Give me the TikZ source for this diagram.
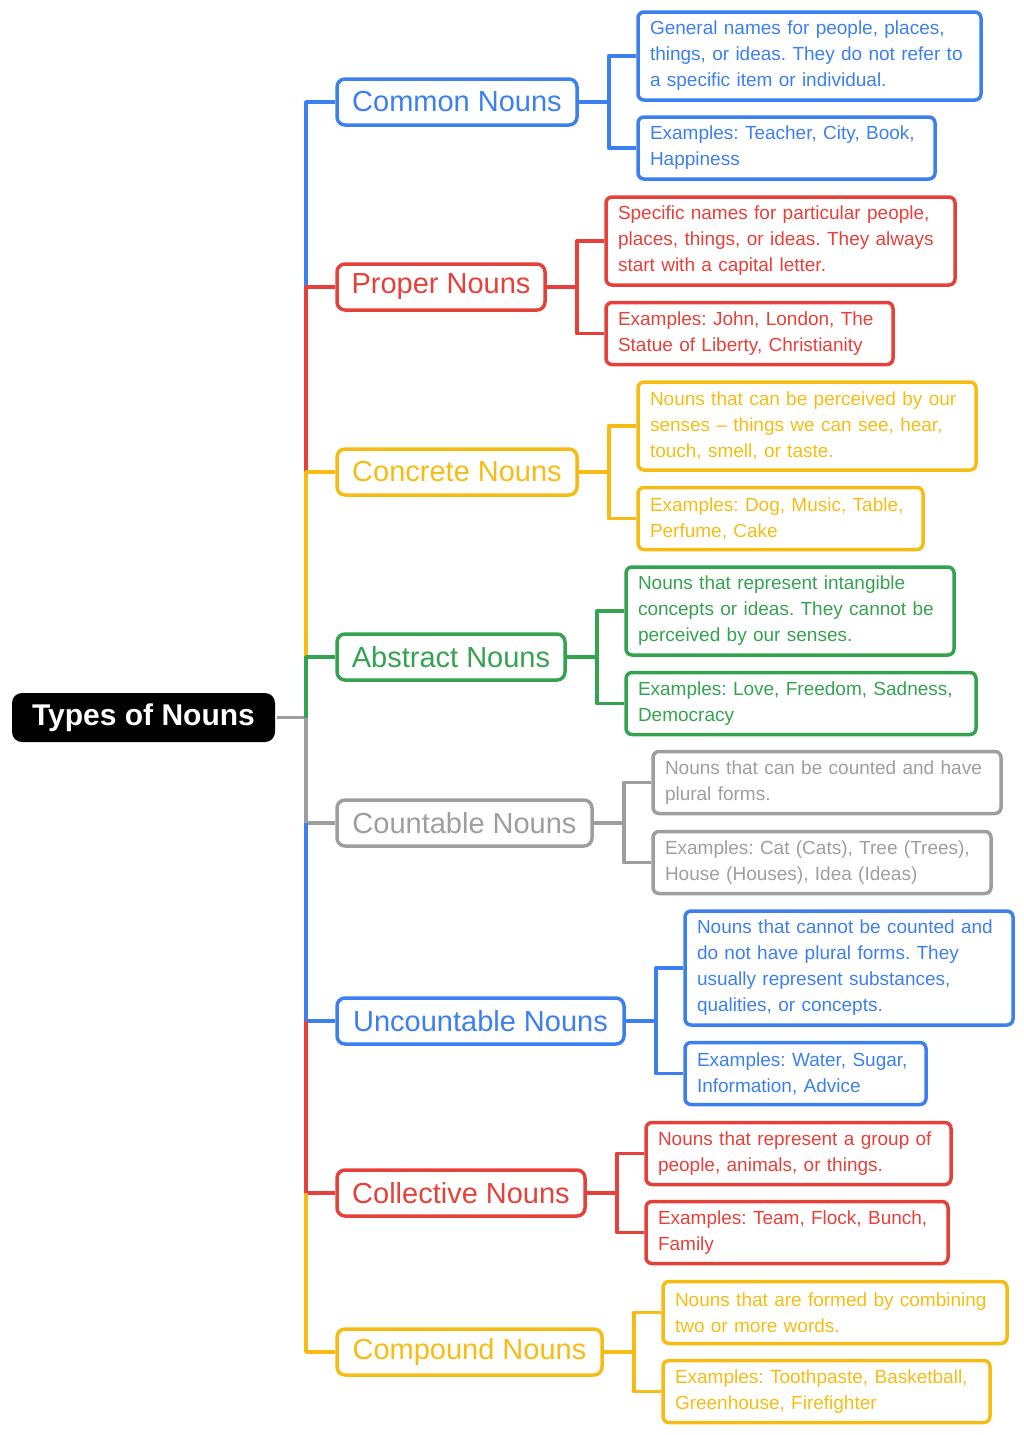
\documentclass[tikz,border=0pt]{standalone}
\usepackage{fontspec}
\setmainfont{Liberation Sans}
\frenchspacing
\definecolor{cb}{HTML}{3C7FEE}
\definecolor{cr}{HTML}{E5413A}
\definecolor{cy}{HTML}{F6BC14}
\definecolor{cg}{HTML}{34A34F}
\definecolor{cgr}{HTML}{9E9E9E}
\begin{document}
\begin{tikzpicture}[x=1pt,y=-1pt,line width=3.5pt,line join=round,
  cat/.style={draw=#1,text=#1,rounded corners=8pt,minimum height=46pt,inner xsep=0pt,font=\fontsize{29}{32}\selectfont},
  desc/.style={draw=#1,text=#1,rounded corners=6pt,inner xsep=12pt,align=left,font=\fontsize{19}{26}\selectfont},
  root/.style={fill=black,text=white,rounded corners=10pt,minimum width=263pt,minimum height=49pt,font=\fontsize{30}{34}\selectfont\bfseries}]
\useasboundingbox (0,0) rectangle (1024,1435);
\node[root] (root) at (143.5,717.5) {Types of Nouns};
\coordinate (t) at (306,717.5);
% categories
\node[cat=cb,minimum width=240pt] (c1) at (457,102) {Common Nouns};
\node[cat=cr,minimum width=208pt] (c2) at (441,287) {Proper Nouns};
\node[cat=cy,minimum width=240pt] (c3) at (457,472) {Concrete Nouns};
\node[cat=cg,minimum width=228pt] (c4) at (451,657) {Abstract Nouns};
\node[cat=cgr,minimum width=255pt] (c5) at (464.5,823) {Countable Nouns};
\node[cat=cb,minimum width=287pt] (c6) at (480.5,1021) {Uncountable Nouns};
\node[cat=cr,minimum width=248pt] (c7) at (461,1193) {Collective Nouns};
\node[cat=cy,minimum width=265pt] (c8) at (469.5,1352) {Compound Nouns};
% descriptions
\node[desc=cb,text width=319pt,minimum height=88pt] (d1a) at (809.5,56) {General names for people, places,\\things, or ideas. They do not refer to\\a specific item or individual.};
\node[desc=cb,text width=273pt,minimum height=62pt] (d1b) at (786.5,148) {Examples: Teacher, City, Book,\\Happiness};
\node[desc=cr,text width=325pt,minimum height=88pt] (d2a) at (780.5,241) {Specific names for particular people,\\places, things, or ideas. They always\\start with a capital letter.};
\node[desc=cr,text width=263pt,minimum height=62pt] (d2b) at (749.5,333.5) {Examples: John, London, The\\Statue of Liberty, Christianity};
\node[desc=cy,text width=314pt,minimum height=88pt] (d3a) at (807,426) {Nouns that can be perceived by our\\senses -- things we can see, hear,\\touch, smell, or taste.};
\node[desc=cy,text width=261pt,minimum height=62pt] (d3b) at (780.5,518.5) {Examples: Dog, Music, Table,\\Perfume, Cake};
\node[desc=cg,text width=304pt,minimum height=88pt] (d4a) at (790,611) {Nouns that represent intangible\\concepts or ideas. They cannot be\\perceived by our senses.};
\node[desc=cg,text width=326pt,minimum height=62pt] (d4b) at (801,703.5) {Examples: Love, Freedom, Sadness,\\Democracy};
\node[desc=cgr,text width=324pt,minimum height=62pt] (d5a) at (827,782.5) {Nouns that can be counted and have\\plural forms.};
\node[desc=cgr,text width=314pt,minimum height=62pt] (d5b) at (822,862.5) {Examples: Cat (Cats), Tree (Trees),\\House (Houses), Idea (Ideas)};
\node[desc=cb,text width=304pt,minimum height=114pt] (d6a) at (849,968) {Nouns that cannot be counted and\\do not have plural forms. They\\usually represent substances,\\qualities, or concepts.};
\node[desc=cb,text width=217pt,minimum height=62pt] (d6b) at (805.5,1073.5) {Examples: Water, Sugar,\\Information, Advice};
\node[desc=cr,text width=281pt,minimum height=62pt] (d7a) at (798.5,1153.5) {Nouns that represent a group of\\people, animals, or things.};
\node[desc=cr,text width=278pt,minimum height=62pt] (d7b) at (797,1232.5) {Examples: Team, Flock, Bunch,\\Family};
\node[desc=cy,text width=320pt,minimum height=62pt] (d8a) at (835,1312.5) {Nouns that are formed by combining\\two or more words.};
\node[desc=cy,text width=303pt,minimum height=62pt] (d8b) at (826.5,1391.5) {Examples: Toothpaste, Basketball,\\Greenhouse, Firefighter};
% trunk
\draw[cgr] (root.east) -- (t);
\draw[cb] (c1.west) -| (t|-c2.west);
\draw[cr] (c2.west) -| (t|-c3.west);
\draw[cy] (c3.west) -| (t|-c4.west);
\draw[cg] (c4.west) -| (t);
\draw[cgr] (c5.west) -| (t);
\draw[cb] (c5.west-|t) -- (t|-c6.west) -- (c6.west);
\draw[cr] (c6.west-|t) -- (t|-c7.west) -- (c7.west);
\draw[cy] (c7.west-|t) -- (t|-c8.west) -- (c8.west);
% brackets
\foreach \i/\c in {1/cb,2/cr,3/cy,4/cg,5/cgr,6/cb,7/cr,8/cy}{
  \draw[\c] (c\i.east) -- ++(30,0) coordinate (b\i);
  \draw[\c] (d\i a.west) -| (b\i) |- (d\i b.west);
}
\end{tikzpicture}
\end{document}
